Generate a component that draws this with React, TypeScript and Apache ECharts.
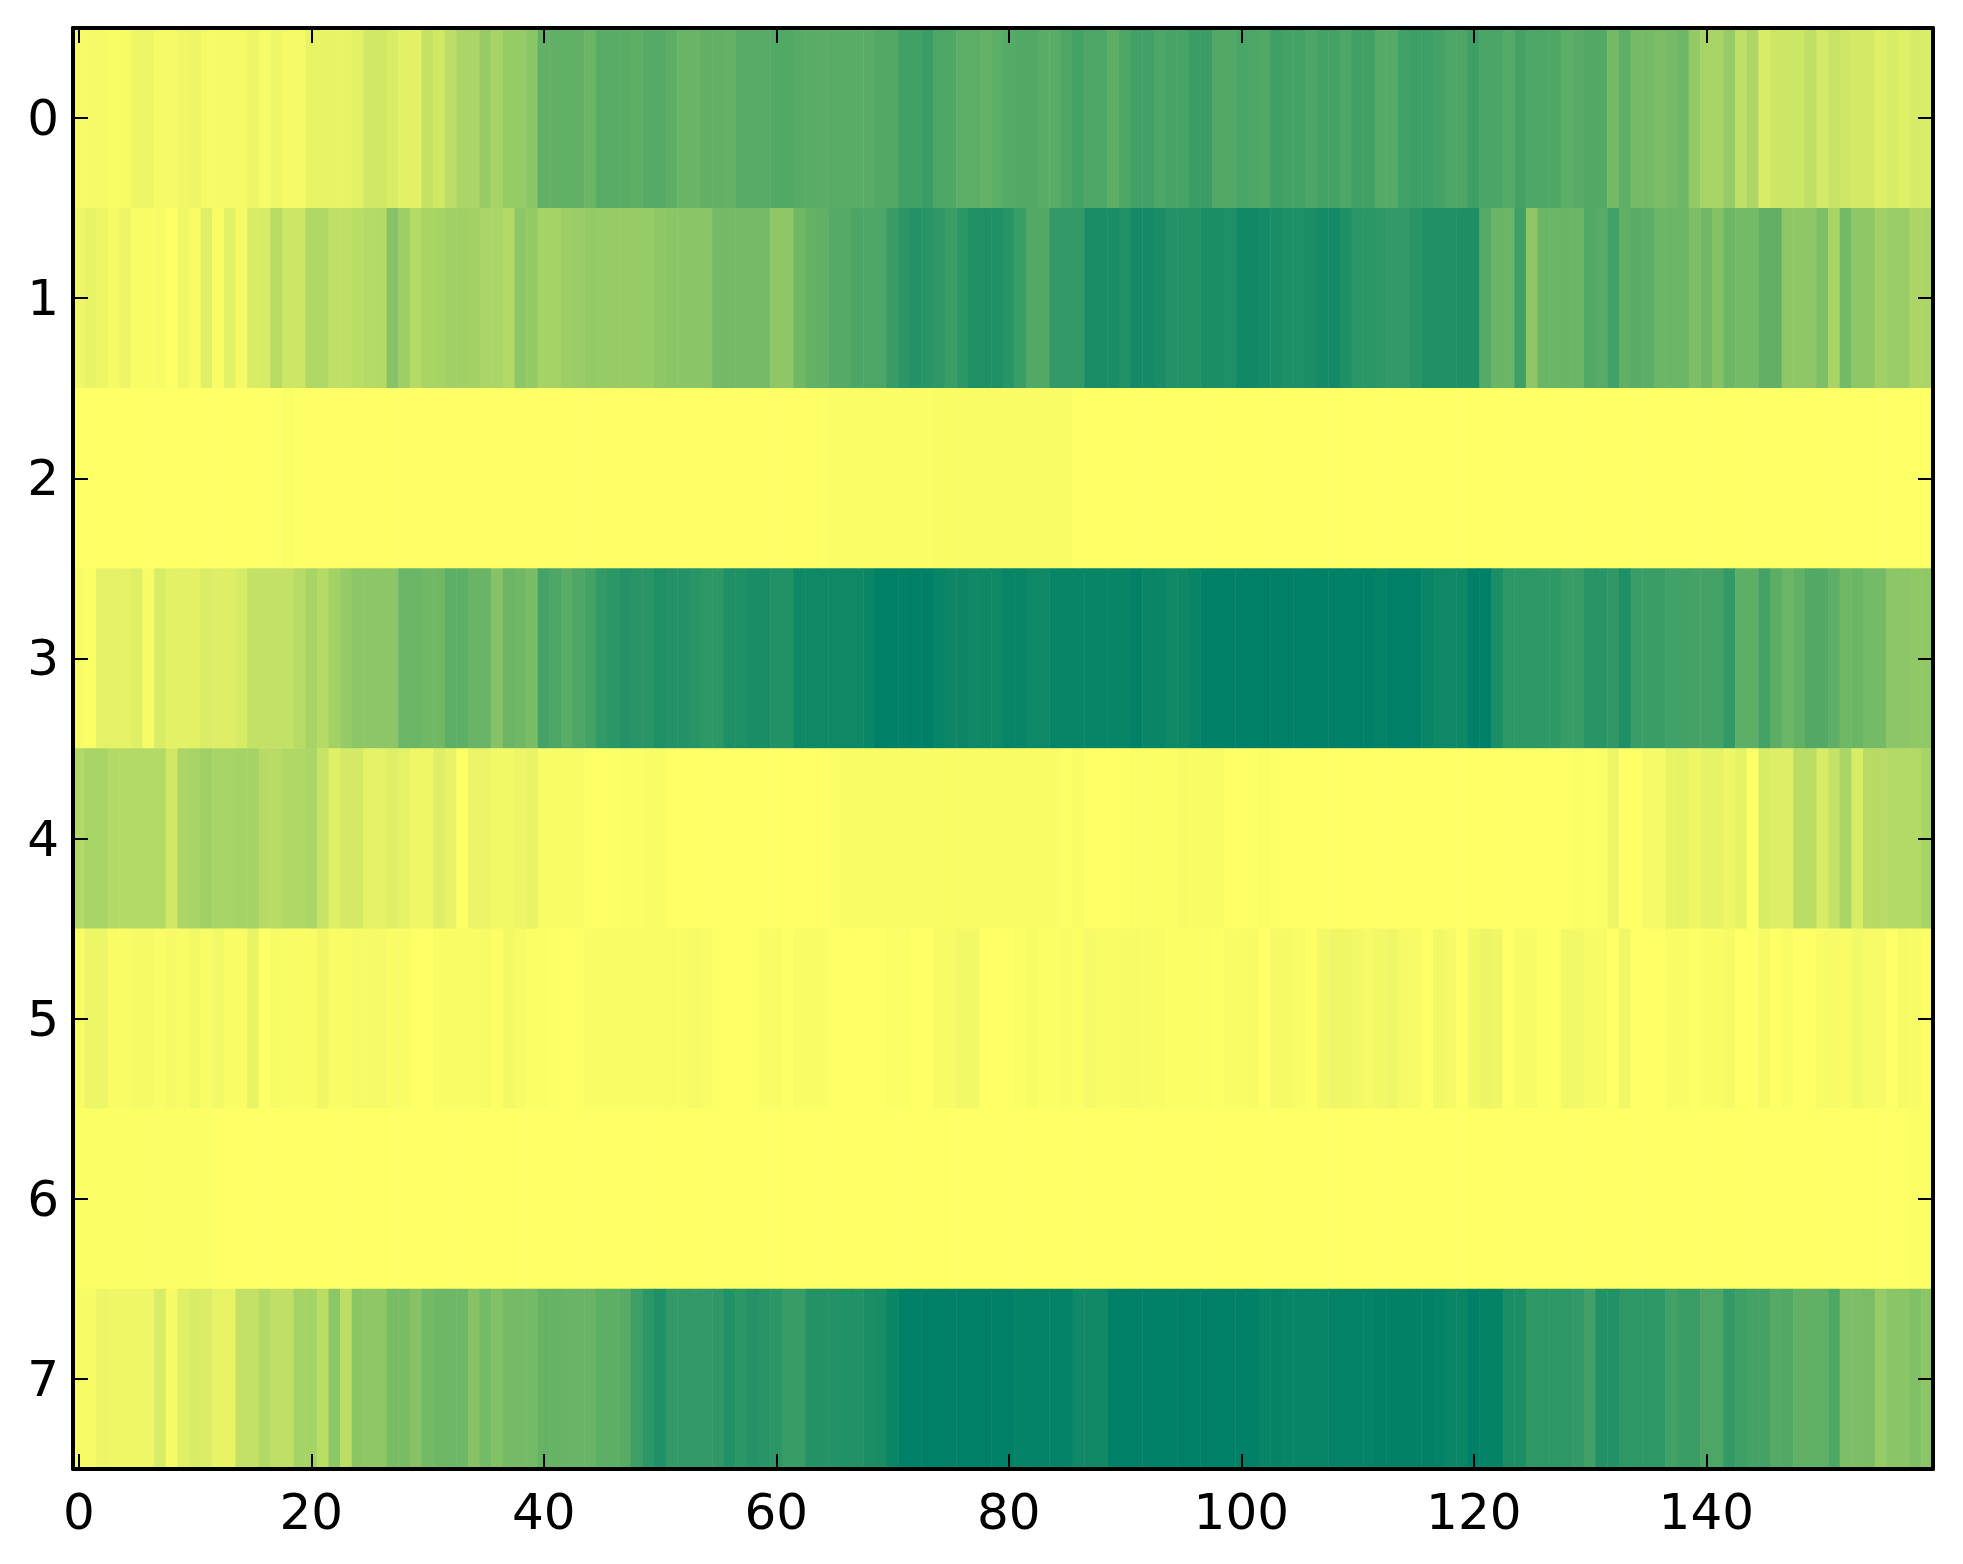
import React, { useEffect, useRef } from "react";
import * as echarts from "echarts";

const columns: string[] = [];
for (let i = 0; i < 160; i++) columns.push(String(i));
const rowLabels = ["0", "1", "2", "3", "4", "5", "6", "7"];

const row0 = [
  4,4,4,2,3,7,7,4,4,6, 7,4,4,4,4,7,3,6,4,4, 9,9,9,9,11,18,18,15,11,11, 23,18,26,33,33,41,34,41,41,46,
  62,62,62,62,58,65,65,65,63,67, 67,63,59,59,62,62,61,66,66,66, 68,68,66,65,64,65,65,65,65,68, 68,75,75,77,70,69,64,64,61,64,
  67,68,68,65,65,70,73,70,70,64, 70,74,74,70,72,72,77,77,68,68, 71,70,68,76,73,73,70,73,73,69, 75,75,67,67,74,76,76,73,70,70,
  76,71,71,67,73,69,69,69,64,66, 68,68,55,63,54,54,52,54,57,42, 34,34,41,25,32,15,20,20,20,25, 17,22,19,17,17,12,15,12,16,14,
];
const row1 = [
  6,9,7,4,7,2,2,3,0,6, 2,12,2,11,4,15,16,28,20,20, 31,31,25,25,27,29,30,47,38,29, 34,34,37,37,36,33,33,30,45,42,
  35,35,39,40,42,41,41,41,41,41, 44,46,46,46,46,55,55,54,54,54, 44,44,56,61,62,67,67,70,70,70, 78,83,86,84,81,77,82,88,88,88,
  84,77,68,68,80,80,80,90,90,90, 87,92,92,90,86,86,86,89,89,88, 93,93,92,90,88,88,89,92,92,88, 83,83,82,80,80,84,88,88,88,88,
  88,67,58,58,76,44,58,58,58,58, 68,66,74,62,65,64,58,58,58,51, 56,48,57,54,54,62,62,44,44,44, 51,34,55,44,44,37,40,40,33,33,
];
const row2 = [
  0,0,0,0,0,0,0,0,0,0, 0,0,0,0,0,0,0,0,1.5,0.5, 0.5,0.5,0.5,0.5,0.5,0.5,0.5,0.5,0.5,0.5, 0.5,0.5,0.5,0.5,0.5,0.5,0.5,0.5,0.5,0.5,
  0.5,0.5,0.5,0.5,0.5,0.5,0.5,0.5,0.5,0.5, 0.5,0.5,0.5,0.5,0.5,0.5,0.5,0.5,0.5,0.5, 0.5,0.5,0.5,0.5,0.5,1.5,1.5,1.5,1.5,1.5, 1.5,1.5,1.5,1.5,2,2,2,2,2,2,
  2,2,2,2,2,2,0,0,0,0, 0,0,0,0,0,0,0,0,0,0, 0,0,0,0,0,0,0,0,0,0, 0,0,0,0,0,0,0,0,0,0,
  0,0,0,0,0,0,0,0,0,0, 0,0,0,0,0,0,0,0,0,0, 0,0,0,0,0,0,0,0,0,0, 0,0,0,0,0,0,0,0,0,0,
];
const row3 = [
  3,1,10,10,10,12,3,15,11,11, 11,14,13,13,16,24,24,24,24,28, 34,29,36,41,45,45,45,45,58,58, 56,56,63,63,59,59,47,58,56,53,
  73,70,65,69,73,80,83,86,84,84, 88,86,86,84,82,82,88,88,90,90, 87,87,94,94,94,94,94,94,96,100, 100,99,100,100,97,95,95,93,94,94,
  97,97,94,94,97,97,97,97,97,97, 97,99,96,96,94,94,97,100,100,100, 100,100,100,100,100,100,100,100,100,100, 100,100,98,100,100,100,96,94,94,94,
  100,100,89,82,82,82,81,81,78,78, 84,84,81,88,77,77,77,74,74,73, 73,73,80,63,63,73,64,58,62,68, 68,63,56,58,54,54,45,45,43,43,
];
const row4 = [
  30,34,34,30,30,30,30,30,18,33, 34,37,34,34,35,35,28,28,31,31, 33,22,12,17,17,10,10,13,10,6, 6,13,9,0,8,8,5,5,7,9,
  2,2,2,2,0,0,0,1,1,2, 2,0,0,0,0,0,0,0,0,0, 0,0,0,0,0,1,2,2,2,2, 2,2,2,2,2,2,2,2,2,2,
  2,2,2,2,2,0,2,0,0,0, 0,1,1,1,1,3,2,2,2,0, 0,0,1,0,0,0,0,0,0,0, 0,0,0,0,0,0,0,0,0,0,
  0,0,0,0,0,0,0,0,0,1, 0,1,7,0,0,4,4,9,10,6, 10,10,6,10,0,15,13,13,27,27, 15,23,33,15,28,28,30,30,30,34,
];
const row5 = [
  2,7,7,2,2,4,4,2,4,2, 5,2,5,2,2,9,0,3,2,2, 2,6,2,2,4,4,4,2,2,0, 0,2,2,2,2,3,1,5,3,1,
  1,0,0,0,2,2,2,2,2,2, 2,3,2,4,2,0,0,0,0,2, 2,0,2,2,2,0,0,0,0,0, 1,1,0,0,3,3,5,5,0,0,
  0,1,3,1,1,2,1,4,2,2, 3,3,2,2,1,1,1,1,0,2, 2,3,0,4,4,2,0,5,6,6, 5,4,5,6,4,3,0,5,4,0,
  5,8,6,0,3,3,0,0,5,5, 3,3,0,6,0,0,0,2,2,0, 2,2,4,0,0,4,0,2,0,0, 3,3,2,5,3,3,0,4,3,1,
];
const row6 = [
  1,1,1,1,1,1,1,1,1,1, 1,1,0,0,0,0,0,0,0,0, 0,0,0,0,0,0,0,0,0,0, 0,0,0,0,0,0,0,0,0,0,
  0,0,0,0,0,0,0,0,0,0, 0,0,0,0,0,0,0,0,0,0, 0,0,0,0,0,0,0,0,0,0, 0,0,0,0,0,0,0,0,0,0,
  0,0,0,0,0,0,0,0,0,0, 0,0,0,0,0,0,0,0,0,0, 0,0,0,0,0,0,0,0,0,0, 0,0,0,0,0,0,0,0,0,0,
  0,0,0,0,0,0,0,0,0,0, 0,0,0,0,0,0,0,0,0,0, 0,0,0,0,0,0,0,0,0,0, 0,0,0,0,0,0,0,0,1,1,
];
const row7 = [
  3,3,7,6,6,6,6,15,4,12, 15,14,9,9,24,24,30,25,25,35, 35,27,45,26,46,44,44,53,53,47, 55,57,57,57,47,54,49,54,54,54,
  60,60,59,59,59,63,63,66,76,83, 88,80,80,80,80,81,87,83,86,84, 83,78,78,86,86,86,87,87,89,90, 96,100,100,100,100,100,100,100,100,100,
  100,98,98,98,98,98,93,93,93,100, 100,100,100,100,100,100,100,100,100,100, 100,100,97,98,97,97,97,97,98,98, 98,98,99,99,99,99,99,98,96,96,
  100,98,98,89,89,81,82,82,82,80, 75,87,87,82,82,82,82,74,77,77, 70,70,80,76,73,73,67,68,62,62, 62,69,51,51,52,41,46,46,50,45,
];
const rows = [row0, row1, row2, row3, row4, row5, row6, row7];

const FONT = "DejaVu Sans";
const LINE = { show: true, onZero: false, lineStyle: { color: "#000", width: 4 } };
const TICK_X = { show: true, inside: true, length: 15, alignWithLabel: true, interval: 19, lineStyle: { color: "#000", width: 2 } };
const TICK_Y = { show: true, inside: true, length: 15, alignWithLabel: true, interval: 0, lineStyle: { color: "#000", width: 2 } };

export default function App() {
  const ref = useRef<HTMLDivElement>(null);
  useEffect(() => {
    const chart = echarts.init(ref.current!, undefined, { renderer: "svg" });
    const cells: number[][] = [];
    rows.forEach((r, y) => r.forEach((v, x) => cells.push([x, y, v])));
    chart.setOption({
      animation: false,
      backgroundColor: "#fff",
      grid: { left: 73, top: 28, width: 1860, height: 1441, containLabel: false },
      visualMap: {
        show: false,
        type: "continuous",
        min: 0,
        max: 100,
        dimension: 2,
        seriesIndex: 0,
        inRange: { color: ["#ffff66", "#008066"] },
      },
      xAxis: [
        {
          type: "category",
          data: columns,
          position: "bottom",
          z: 10,
          axisLine: LINE,
          axisTick: TICK_X,
          axisLabel: { show: true, interval: 19, margin: 18, color: "#000", fontFamily: FONT, fontSize: 50 },
          splitLine: { show: false },
        },
        {
          type: "category",
          data: columns,
          position: "top",
          z: 10,
          axisLine: LINE,
          axisTick: TICK_X,
          axisLabel: { show: false },
          splitLine: { show: false },
        },
      ],
      yAxis: [
        {
          type: "category",
          data: rowLabels,
          inverse: true,
          position: "left",
          z: 10,
          axisLine: LINE,
          axisTick: TICK_Y,
          axisLabel: { show: true, interval: 0, margin: 14, color: "#000", fontFamily: FONT, fontSize: 50 },
          splitLine: { show: false },
        },
        {
          type: "category",
          data: rowLabels,
          inverse: true,
          position: "right",
          z: 10,
          axisLine: LINE,
          axisTick: TICK_Y,
          axisLabel: { show: false },
          splitLine: { show: false },
        },
      ],
      series: [
        {
          type: "heatmap",
          xAxisIndex: 0,
          yAxisIndex: 0,
          data: cells,
          z: 1,
          progressive: 0,
          itemStyle: { borderWidth: 0 },
          emphasis: { disabled: true },
        },
      ],
    });
    return () => chart.dispose();
  }, []);
  return <div ref={ref} style={{ position: "absolute", left: 0, top: 0, width: 1963, height: 1564 }} />;
}
